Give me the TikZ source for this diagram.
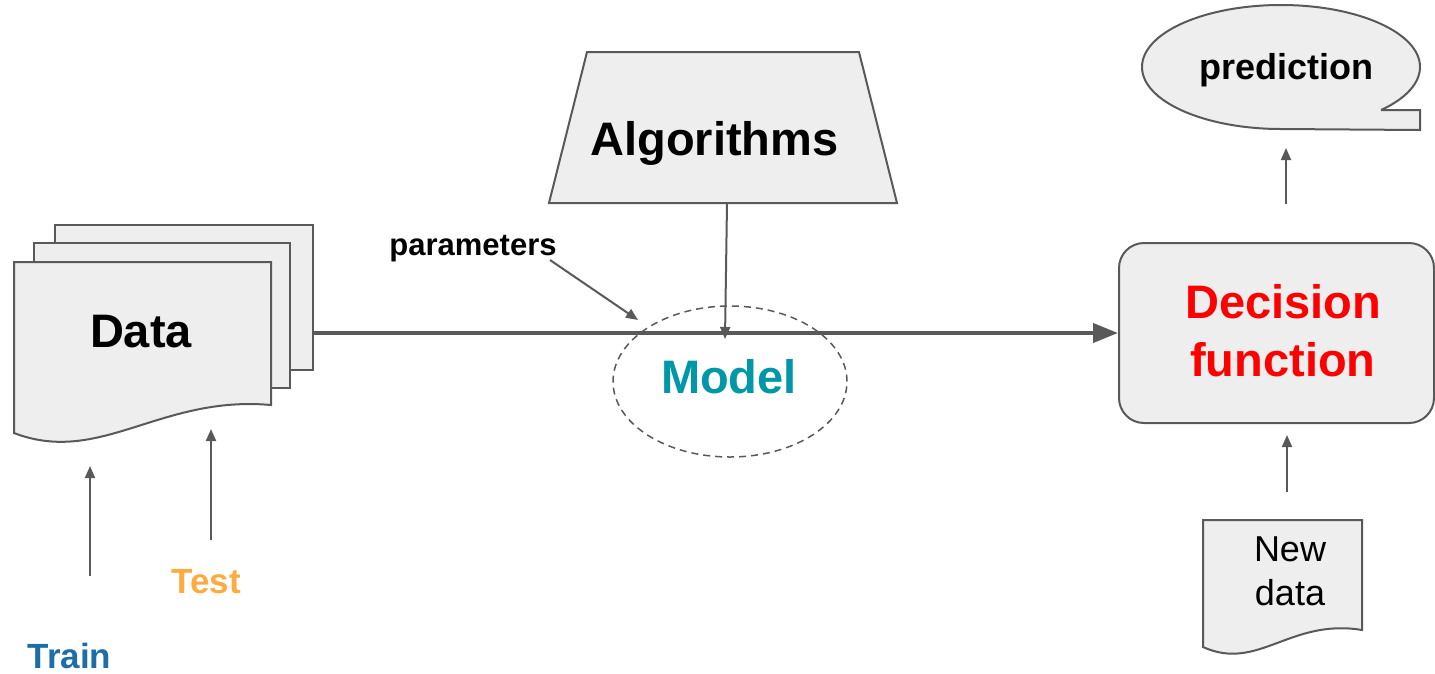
\documentclass[tikz,border=0pt]{standalone}
\usepackage{fontspec}
\setmainfont{Liberation Sans}
\usetikzlibrary{arrows.meta,shapes.geometric}
\definecolor{edgegray}{HTML}{595959}
\definecolor{paper}{HTML}{EEEEEE}
\definecolor{modelteal}{HTML}{0097A7}
\definecolor{testorange}{HTML}{FFAB40}
\definecolor{trainblue}{HTML}{1C6EA4}
\definecolor{decred}{HTML}{FF0000}
\tikzset{
  sheet/.style={draw=edgegray, fill=paper, line width=2pt, inner sep=0pt},
  lbl/.style={inner sep=0pt, anchor=base},
  big/.style={lbl, font=\fontsize{47}{56}\selectfont\bfseries},
  thin/.style={draw=edgegray, line width=2pt, -{Triangle[length=12pt,width=10pt]}},
  thick/.style={draw=edgegray, line width=4pt, -{Triangle[length=25pt,width=19pt]}},
}
\begin{document}
\begin{tikzpicture}[x=1pt,y=-1pt]
\useasboundingbox (0,0) rectangle (1435,673);

% stacked data sheets
\node[sheet, minimum width=258pt, minimum height=145pt] (back) at (184,297.5) {};
\node[sheet, minimum width=256pt, minimum height=145pt] (middle) at (162,315.5) {};
\path[sheet] (14,262) -- (271,262) -- (271,405)
  .. controls (160,395) and (100,466) .. (14,433) -- cycle;
\node[big] (data) at (141,347) {Data};

% algorithms
\path[sheet] (549,203) -- (587,52) -- (859,52) -- (897,203) -- cycle;
\coordinate (algoout) at (727,203);
\node[big] (algo) at (714.5,155) {Algorithms};

% model
\node[draw=edgegray, line width=1.5pt, dash pattern=on 7pt off 5pt, ellipse,
  minimum width=234pt, minimum height=151pt, inner sep=0pt] (model) at (730,381.5) {};
\node[big, text=modelteal] (modeltext) at (729,393) {Model};

% decision function
\node[sheet, rounded corners=25pt, minimum width=315pt, minimum height=180pt] (dec) at (1276.5,333) {};
\node[inner sep=0pt, align=center, text=decred, font=\fontsize{47}{58}\selectfont\bfseries]
  (dectext) at (1283,331) {Decision\\function};

% prediction callout
\path[sheet] (1381,110) -- (1420,110) -- (1420,130) -- (1281,129)
  arc[start angle=90, end angle=403.9, x radius=139, y radius=62] -- cycle;
\node[lbl, font=\fontsize{36}{43}\selectfont\bfseries] (pred) at (1286,79) {prediction};

% new data sheet
\path[sheet] (1203,520) -- (1362,520) -- (1362,630)
  .. controls (1290,618) and (1258,672) .. (1203,647) -- cycle;
\node[inner sep=0pt, align=center, font=\fontsize{36}{44}\selectfont] (newdata) at (1290,571) {New\\data};

% labels
\node[lbl, font=\fontsize{31}{37}\selectfont\bfseries] (params) at (473,255) {parameters};
\node[lbl, text=testorange, font=\fontsize{35}{42}\selectfont\bfseries] (test) at (206,593) {Test};
\node[lbl, text=trainblue, font=\fontsize{35}{42}\selectfont\bfseries] (train) at (69.5,668) {Train};

% connectors
\draw[thick] (back.east |- dec.west) -- (dec.west);
\coordinate (algoin) at (725,339);
\draw[thin] (algoout) -- (algoin);
\coordinate (paramsout) at (550,260);
\coordinate (paramsin) at (638,320);
\draw[thin] (paramsout) -- (paramsin);
\coordinate (trainout) at (90,576);
\coordinate (trainin) at (90,466);
\draw[thin] (trainout) -- (trainin);
\coordinate (testout) at (211,540);
\coordinate (testin) at (211,429);
\draw[thin] (testout) -- (testin);
\coordinate (newout) at (1287,492);
\coordinate (newin) at (1287,435);
\draw[thin] (newout) -- (newin);
\coordinate (predout) at (1286,204);
\coordinate (predin) at (1286,148);
\draw[thin] (predout) -- (predin);
\end{tikzpicture}
\end{document}
